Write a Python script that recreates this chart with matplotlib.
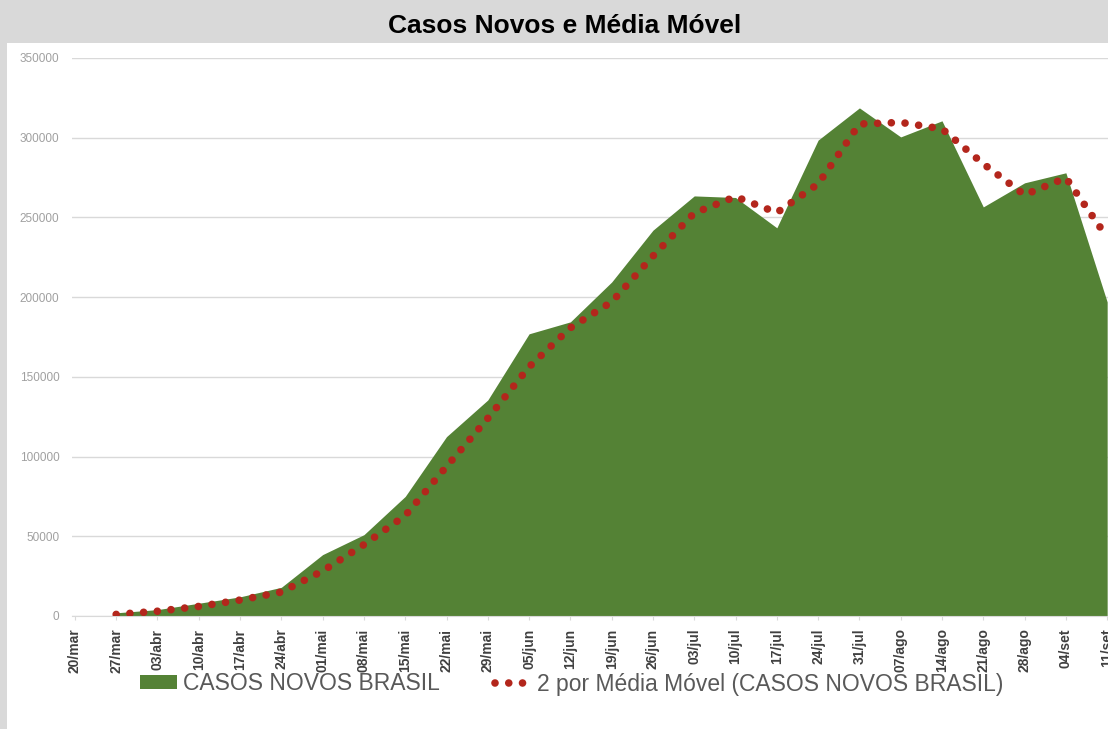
import matplotlib.pyplot as plt
from matplotlib.patches import Rectangle, Patch
from matplotlib.lines import Line2D
import numpy as np

# datas semanais (eixo de categorias)
semanas = ['20/mar', '27/mar', '03/abr', '10/abr', '17/abr', '24/abr', '01/mai', '08/mai',
           '15/mai', '22/mai', '29/mai', '05/jun', '12/jun', '19/jun', '26/jun', '03/jul',
           '10/jul', '17/jul', '24/jul', '31/jul', '07/ago', '14/ago', '21/ago', '28/ago',
           '04/set', '11/set']

# casos novos por semana, sem valor em 20/mar
casos_novos = [np.nan, 2000, 4000, 8000, 12000, 18000, 38500, 51000,
               75000, 112500, 135500, 177000, 184500, 209500, 242000, 263500,
               262500, 243500, 298500, 318700, 300500, 310600, 256600, 271700,
               278000, 197000]

# media movel de 2 periodos
media_movel = [np.nan, 1000, 3000, 6000, 10000, 15000, 28250, 44750,
               63000, 93750, 124000, 156250, 180750, 197000, 225750, 252750,
               263000, 253000, 271000, 308600, 309600, 305550, 283600, 264150,
               274850, 237500]

verde = '#548235'
vermelho = '#b3261c'
cinza_texto = '#595959'

fig = plt.figure(figsize=(11.08, 7.29), dpi=100, facecolor='#d9d9d9')

# painel branco do grafico
fig.patches.append(Rectangle((7 / 1108, 0), 1, 1 - 43 / 729, transform=fig.transFigure,
                             facecolor='white', edgecolor='none', zorder=-1))

fig.text(565 / 1108, 1 - 33 / 729, 'Casos Novos e Média Móvel', ha='center', va='baseline',
         fontsize=19, fontweight='bold', family='Liberation Sans', color='black')

ax = fig.add_axes([72 / 1108, 113 / 729, 1 - 72 / 1108, (616 - 58) / 729])
ax.set_facecolor('none')

x = np.arange(len(semanas))
casos = np.array(casos_novos)
ok = ~np.isnan(casos)
ax.fill_between(x[ok], 0, casos[ok], color=verde, linewidth=0, zorder=2)
ax.plot(x, media_movel, color=vermelho, linewidth=5.5, linestyle=(0, (0.001, 1.8)),
        dash_capstyle='round', zorder=3)

ax.set_xlim(-0.07, 25.02)
ax.set_ylim(0, 350000)
ax.set_yticks(np.arange(0, 350001, 50000))
ax.yaxis.grid(True, color='#d9d9d9', linewidth=1)
ax.set_axisbelow(True)
for s in ['top', 'right', 'left']:
    ax.spines[s].set_visible(False)
ax.spines['bottom'].set_color('#d9d9d9')

ax.set_xticks(x)
ax.set_xticklabels(semanas, rotation=90, fontsize=10, fontweight='bold',
                   family='Liberation Sans', color='#404040')
ax.tick_params(axis='x', length=3, color='#d9d9d9', pad=6)
ax.tick_params(axis='y', length=0, pad=9, labelsize=8.5, labelcolor='#a0a0a0')
for lb in ax.get_yticklabels():
    lb.set_family('Liberation Sans')

handles = [Patch(facecolor=verde, edgecolor='none'),
           Line2D([0], [0], color=vermelho, linewidth=5.5, linestyle=(0, (0.001, 1.8)),
                  dash_capstyle='round')]
fig.legend(handles, ['CASOS NOVOS BRASIL', '2 por Média Móvel (CASOS NOVOS BRASIL)'],
           loc='center', bbox_to_anchor=(572 / 1108, 1 - 684 / 729), ncol=2, frameon=False,
           prop={'family': 'Liberation Sans', 'size': 16.5}, labelcolor=cinza_texto,
           handlelength=1.6, handleheight=0.55, handletextpad=0.25, columnspacing=2.4)

fig.savefig('out.png', dpi=100)
